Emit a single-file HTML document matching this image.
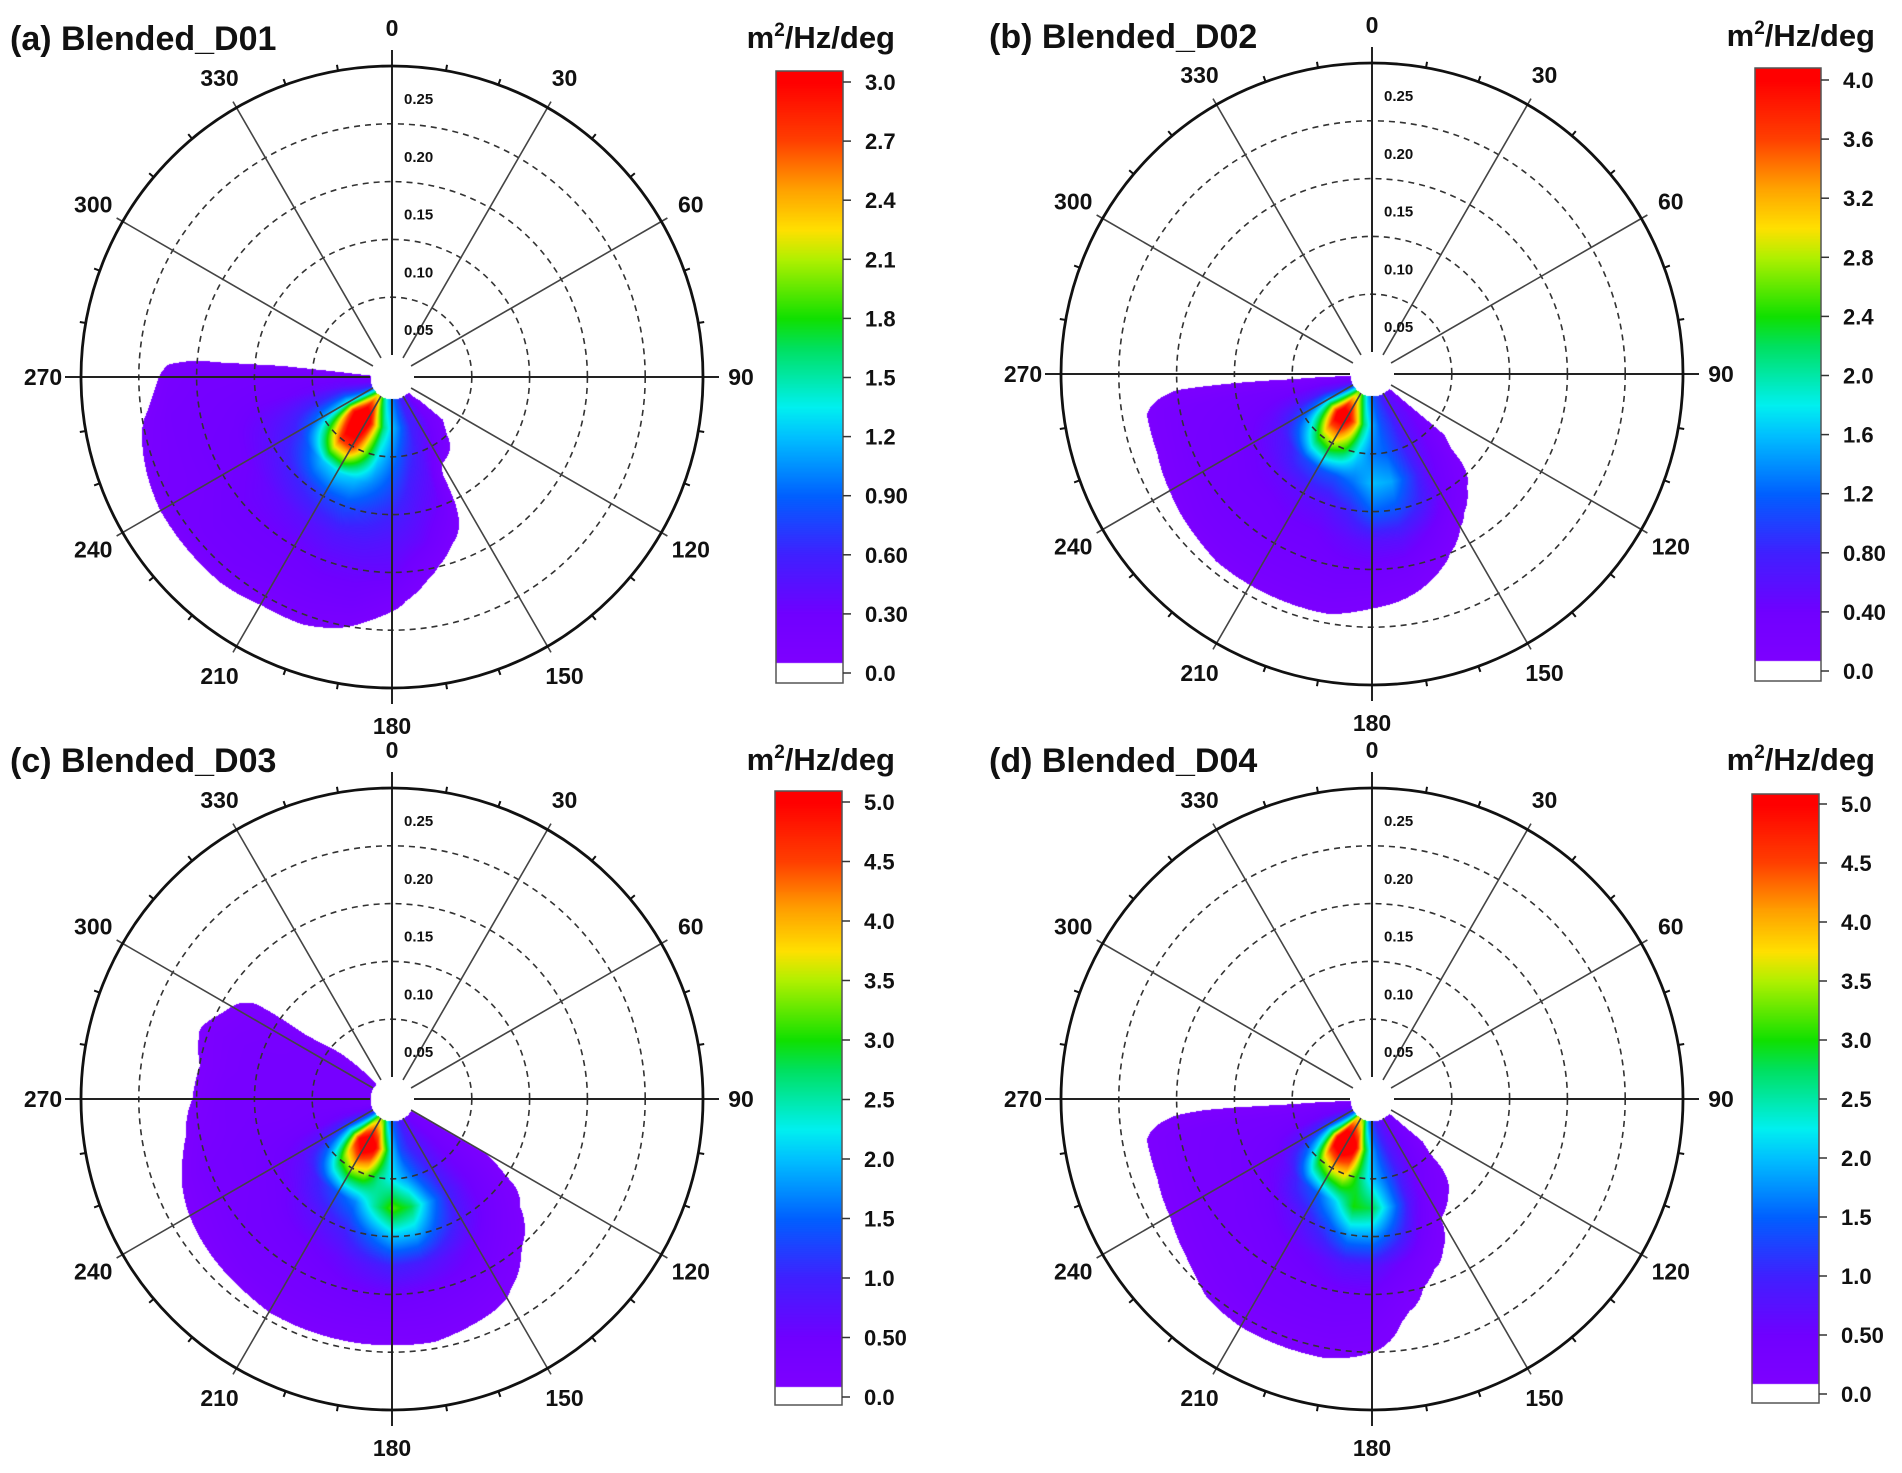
<!DOCTYPE html>
<html><head><meta charset="utf-8">
<style>
html,body{margin:0;padding:0;background:#fff;}
#wrap{position:relative;width:1902px;height:1473px;overflow:hidden;}
#heat{position:absolute;left:0;top:0;}
#ov{position:absolute;left:0;top:0;}
text{font-family:"Liberation Sans",Arial,sans-serif;font-weight:bold;fill:#111;}
</style></head>
<body>
<div id="wrap">
<canvas id="heat" width="1902" height="1473"></canvas>
<svg id="ov" width="1902" height="1473" xmlns="http://www.w3.org/2000/svg"></svg>
</div>
<script>
// ---- data ----
const freqs = [0,0.025,0.05,0.075,0.1,0.125,0.15,0.175,0.2,0.225,0.25];
const radialTicks = [0.05,0.10,0.15,0.20,0.25];
const angleTicks = [0,30,60,90,120,150,180,210,240,270,300,330];
const titles = ["(a) Blended_D01","(b) Blended_D02","(c) Blended_D03","(d) Blended_D04"];
const cbTicksA = ["0.0","0.30","0.60","0.90","1.2","1.5","1.8","2.1","2.4","2.7","3.0"];
const cbTicksB = ["0.0","0.40","0.80","1.2","1.6","2.0","2.4","2.8","3.2","3.6","4.0"];
const cbTicksC = ["0.0","0.50","1.0","1.5","2.0","2.5","3.0","3.5","4.0","4.5","5.0"];
const cbTicksD = ["0.0","0.50","1.0","1.5","2.0","2.5","3.0","3.5","4.0","4.5","5.0"];
const vmaxes = [3.0,4.0,5.0,5.0];

const dirsA = [130,140,150,160,170,180,190,200,210,220,230,240,250,260,270,280];
const valsA = [
[0,0.2,0,0,0,0,0,0,0,0,0],
[0.3,0.3,0.15,0,0,0,0,0,0,0,0],
[0.5,0.5,0.3,0,0,0,0,0,0,0,0],
[0.6,0.6,0.5,0.4,0.3,0.15,0,0,0,0,0],
[0.8,0.9,0.7,0.55,0.45,0.35,0.15,0,0,0,0],
[1.0,1.2,1.0,0.8,0.6,0.45,0.35,0.15,0,0,0],
[1.2,1.6,1.3,1.0,0.7,0.5,0.35,0.25,0.1,0,0],
[1.5,2.4,2.0,1.2,0.8,0.5,0.35,0.25,0.15,0,0],
[2.0,3.4,2.8,1.3,0.75,0.45,0.3,0.25,0.15,0,0],
[2.2,3.6,2.8,1.2,0.65,0.4,0.3,0.25,0.2,0,0],
[1.6,2.8,1.9,0.9,0.55,0.35,0.3,0.25,0.2,0,0],
[0.9,1.4,1.1,0.65,0.45,0.3,0.25,0.2,0.2,0,0],
[0.5,0.8,0.65,0.5,0.38,0.28,0.25,0.2,0.15,0,0],
[0.3,0.4,0.35,0.3,0.28,0.25,0.22,0.2,0.1,0,0],
[0.2,0.25,0.25,0.25,0.22,0.2,0.2,0.15,0,0,0],
[0,0,0,0,0,0,0,0,0,0,0]];

const dirsB = [130,140,150,160,170,180,190,200,210,220,230,240,250,260,270];
const valsB = [
[0.3,0.3,0.2,0,0,0,0,0,0,0,0],
[0.5,0.5,0.4,0.3,0.15,0,0,0,0,0,0],
[0.6,0.6,0.6,0.5,0.4,0.15,0,0,0,0,0],
[0.8,0.9,0.9,1.0,0.8,0.4,0.15,0,0,0,0],
[1.0,1.1,1.2,1.5,1.1,0.6,0.3,0.1,0,0,0],
[1.2,1.5,1.3,1.6,1.2,0.6,0.35,0.15,0,0,0],
[1.5,2.2,1.7,1.3,0.8,0.5,0.35,0.2,0.05,0,0],
[2.0,3.4,2.4,1.1,0.6,0.4,0.3,0.2,0.05,0,0],
[2.6,4.3,2.8,1.1,0.55,0.4,0.3,0.2,0.05,0,0],
[2.6,4.5,2.6,1.0,0.5,0.35,0.3,0.2,0.05,0,0],
[1.8,3.0,1.8,0.75,0.45,0.35,0.3,0.2,0,0,0],
[1.0,1.6,1.1,0.6,0.4,0.3,0.28,0.15,0,0,0],
[0.5,0.7,0.6,0.45,0.35,0.3,0.25,0.12,0,0,0],
[0.3,0.35,0.3,0.3,0.28,0.25,0.22,0.12,0,0,0],
[0,0,0,0,0,0,0,0,0,0,0]];

const dirsC = [120,130,140,150,160,170,180,190,200,210,220,230,240,250,260,270,280,290,300,310,320];
const valsC = [
[0.3,0.3,0.2,0.1,0,0,0,0,0,0,0],
[0.4,0.4,0.4,0.35,0.25,0.1,0,0,0,0,0],
[0.5,0.6,0.6,0.6,0.5,0.3,0.12,0,0,0,0],
[0.7,0.8,0.9,1.0,0.8,0.5,0.3,0.12,0,0,0],
[0.9,1.0,1.3,1.8,1.3,0.7,0.4,0.2,0,0,0],
[1.2,1.3,1.8,2.8,1.9,0.9,0.45,0.25,0.05,0,0],
[1.5,2.0,2.2,3.2,2.0,1.0,0.5,0.25,0.05,0,0],
[2.0,3.5,2.6,2.5,1.5,0.8,0.45,0.25,0.05,0,0],
[3.0,5.2,3.4,1.7,1.0,0.6,0.4,0.25,0.05,0,0],
[3.5,5.8,3.6,1.4,0.8,0.5,0.35,0.25,0.05,0,0],
[3.0,5.0,3.0,1.1,0.65,0.45,0.35,0.25,0,0,0],
[1.8,2.8,1.8,0.8,0.5,0.4,0.35,0.2,0,0,0],
[0.9,1.3,0.9,0.6,0.45,0.35,0.3,0.15,0,0,0],
[0.5,0.6,0.5,0.45,0.4,0.35,0.3,0.1,0,0,0],
[0.3,0.4,0.4,0.35,0.35,0.3,0.2,0,0,0,0],
[0.3,0.35,0.35,0.35,0.3,0.3,0.12,0,0,0,0],
[0.3,0.3,0.3,0.3,0.3,0.25,0.1,0,0,0,0],
[0.3,0.3,0.3,0.3,0.3,0.25,0.15,0,0,0,0],
[0.3,0.3,0.3,0.3,0.25,0.2,0.05,0,0,0,0],
[0.2,0.15,0.1,0,0,0,0,0,0,0,0],
[0,0,0,0,0,0,0,0,0,0,0]];

const dirsD = [130,140,150,160,170,180,190,200,210,220,230,240,250,260,270];
const valsD = [
[0.3,0.2,0,0,0,0,0,0,0,0,0],
[0.4,0.4,0.3,0.15,0,0,0,0,0,0,0],
[0.5,0.6,0.5,0.3,0.1,0,0,0,0,0,0],
[0.7,0.8,0.9,0.8,0.5,0.2,0,0,0,0,0],
[0.9,1.2,1.5,1.8,1.2,0.5,0.2,0.05,0,0,0],
[1.2,1.8,2.0,2.8,1.8,0.8,0.45,0.25,0.1,0,0],
[1.8,3.2,2.8,3.0,1.8,0.8,0.45,0.3,0.15,0,0],
[3.0,5.3,3.8,2.1,1.2,0.6,0.4,0.3,0.15,0,0],
[3.6,6.0,3.8,1.5,0.8,0.5,0.35,0.3,0.15,0,0],
[3.6,5.8,3.2,1.2,0.6,0.4,0.3,0.25,0.12,0,0],
[2.0,3.0,1.8,0.75,0.45,0.35,0.3,0.2,0.05,0,0],
[1.0,1.3,0.9,0.5,0.4,0.3,0.28,0.15,0,0,0],
[0.5,0.6,0.5,0.4,0.35,0.3,0.25,0.12,0,0,0],
[0.3,0.35,0.3,0.3,0.3,0.28,0.22,0.12,0,0,0],
[0,0,0,0,0,0,0,0,0,0,0]];

// ---- layout ----
const panels = [
 {cx:392,cy:377,dirs:dirsA,vals:valsA,ticks:cbTicksA,vmax:vmaxes[0],title:titles[0],tx:10,ty:50,bx:776,bw:67,btop:71,bbot:683,ttop:82,tzero:673,ux:895,uy:48},
 {cx:1372,cy:374,dirs:dirsB,vals:valsB,ticks:cbTicksB,vmax:vmaxes[1],title:titles[1],tx:989,ty:48,bx:1755,bw:66,btop:68,bbot:681,ttop:80,tzero:671,ux:1875,uy:46},
 {cx:392,cy:1099,dirs:dirsC,vals:valsC,ticks:cbTicksC,vmax:vmaxes[2],title:titles[2],tx:10,ty:772,bx:775,bw:67,btop:791,bbot:1405,ttop:802,tzero:1397,ux:895,uy:770},
 {cx:1372,cy:1099,dirs:dirsD,vals:valsD,ticks:cbTicksD,vmax:vmaxes[3],title:titles[3],tx:989,ty:772,bx:1752,bw:67,btop:794,bbot:1403,ttop:804,tzero:1394,ux:1875,uy:770}
];
const R0 = 22, RSCALE = 1156, ROUT = 311, THR = 0.1;
function rOf(f){ return R0 + f*RSCALE; }
function pt(cx,cy,deg,r){ const a=deg*Math.PI/180; return [cx+r*Math.sin(a), cy-r*Math.cos(a)]; }

const stops = [[0,[128,0,255]],[0.1,[112,0,255]],[0.2,[64,32,255]],[0.3,[0,96,255]],[0.4,[0,192,255]],[0.45,[0,240,240]],[0.55,[0,224,96]],[0.6,[16,224,0]],[0.7,[176,240,0]],[0.75,[255,224,0]],[0.82,[255,160,0]],[0.9,[255,64,0]],[1,[255,0,0]]];
function cmap(t){
  t=Math.max(0,Math.min(1,t));
  for(let i=1;i<stops.length;i++){ if(t<=stops[i][0]){ const a=stops[i-1],b=stops[i]; const u=(t-a[0])/(b[0]-a[0]); return [0,1,2].map(k=>Math.round(a[1][k]+(b[1][k]-a[1][k])*u)); } }
  return stops[stops.length-1][1];
}
function sample(dirs,vals,d,f){
  if(d<dirs[0]||d>dirs[dirs.length-1]) return 0;
  const fi=f/(freqs[1]-freqs[0]); if(fi<0||fi>freqs.length-1) return 0;
  const step=dirs[1]-dirs[0]; let di=(d-dirs[0])/step;
  let i0=Math.min(Math.floor(di),dirs.length-2), j0=Math.min(Math.floor(fi),freqs.length-2);
  const u=di-i0, v=fi-j0;
  return vals[i0][j0]*(1-u)*(1-v)+vals[i0+1][j0]*u*(1-v)+vals[i0][j0+1]*(1-u)*v+vals[i0+1][j0+1]*u*v;
}

// ---- heatmap ----
const ctx=document.getElementById('heat').getContext('2d');
const img=ctx.createImageData(1902,1473); const D=img.data;
for(let k=0;k<D.length;k+=4){D[k]=255;D[k+1]=255;D[k+2]=255;D[k+3]=255;}
panels.forEach(p=>{
  for(let y=Math.floor(p.cy-ROUT);y<=p.cy+ROUT;y++){
    for(let x=Math.floor(p.cx-ROUT);x<=p.cx+ROUT;x++){
      const dx=x-p.cx, dy=y-p.cy; const r=Math.sqrt(dx*dx+dy*dy);
      if(r<R0||r>ROUT) continue;
      let d=Math.atan2(dx,-dy)*180/Math.PI; if(d<0) d+=360;
      const val=sample(p.dirs,p.vals,d,(r-R0)/RSCALE);
      if(val<THR) continue;
      const c=cmap(val/p.vmax); const o=(y*1902+x)*4;
      D[o]=c[0];D[o+1]=c[1];D[o+2]=c[2];
    }
  }
  const t0=p.tzero, t1=p.ttop;
  for(let y=p.btop;y<p.bbot;y++){
    const val=(t0-y)/(t0-t1)*p.vmax;
    const c = val < p.vmax*0.017 ? [255,255,255] : cmap(val/p.vmax);
    for(let x=p.bx;x<p.bx+p.bw;x++){ const o=(y*1902+x)*4; D[o]=c[0];D[o+1]=c[1];D[o+2]=c[2]; }
  }
});
ctx.putImageData(img,0,0);

// ---- overlay ----
const svg=document.getElementById('ov'); const NS='http://www.w3.org/2000/svg';
function mk(tag,attrs,parent){ const e=document.createElementNS(NS,tag); for(const k in attrs) e.setAttribute(k,attrs[k]); (parent||svg).appendChild(e); return e; }
panels.forEach((p,pi)=>{
  const g=mk('g',{});
  
  
  radialTicks.slice(0,4).forEach(f=>{
    const c=mk('circle',{cx:p.cx,cy:p.cy,r:rOf(f),fill:'none',stroke:'#333','stroke-width':1.6,'stroke-dasharray':'6 5'},g);
    
    
  });
  angleTicks.forEach(a=>{
    const ext=(a%90===0)?16:7;
    const [x1,y1]=pt(p.cx,p.cy,a,R0); const [x2,y2]=pt(p.cx,p.cy,a,ROUT+ext);
    const l=mk('line',{x1,y1,x2,y2,stroke:(a%90===0)?'#222':'#444','stroke-width':(a%90===0)?2:1.6},g);
    
    
    const [tx,ty]=pt(p.cx,p.cy,a,ROUT+(a%90===0?38:34));
    const t=mk('text',{x:tx,y:ty+8,'text-anchor':'middle','font-size':23},g);
    t.textContent=String(a);
    
    
  });
  for(let a=0;a<360;a+=10){ if(a%30===0) continue;
    const [x1,y1]=pt(p.cx,p.cy,a,ROUT); const [x2,y2]=pt(p.cx,p.cy,a,ROUT+6);
    const l=mk('line',{x1,y1,x2,y2,stroke:'#111','stroke-width':2},g);
    
    
  }
  const oc=mk('circle',{cx:p.cx,cy:p.cy,r:ROUT,fill:'none',stroke:'#111','stroke-width':2.8},g);
  
  
  radialTicks.forEach(f=>{
    const t=mk('text',{x:p.cx+12,y:p.cy-rOf(f)+38,'font-size':15},g);
    t.textContent=f.toFixed(2);
    
    
  });
  const ti=mk('text',{x:p.tx,y:p.ty,'font-size':34},g);
  ti.textContent=p.title;
  
  
  const u=mk('text',{x:p.ux,y:p.uy,'font-size':31,'text-anchor':'end'},g);
  u.innerHTML='m<tspan dy="-12" font-size="19">2</tspan><tspan dy="12">/Hz/deg</tspan>';
  
  
  const cb=mk('rect',{x:p.bx,y:p.btop,width:p.bw,height:p.bbot-p.btop,fill:'none',stroke:'#555','stroke-width':1.5},g);
  
  
  p.ticks.forEach((lab,i)=>{
    const y=p.tzero+(p.ttop-p.tzero)*i/(p.ticks.length-1);
    const l=mk('line',{x1:p.bx+p.bw,y1:y,x2:p.bx+p.bw+8,y2:y,stroke:'#333','stroke-width':1.5},g);
    
    
    const t=mk('text',{x:p.bx+p.bw+22,y:y+8,'font-size':22},g);
    t.textContent=lab;
    
    
  });
});
</script>
</body></html>
